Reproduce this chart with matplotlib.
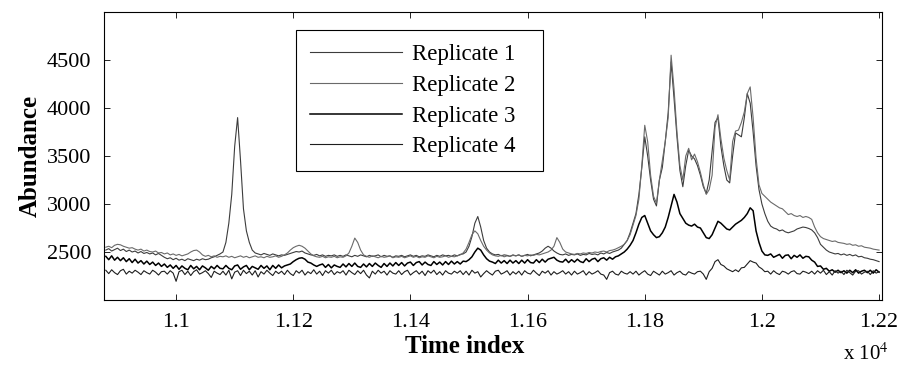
import numpy as np
import matplotlib
matplotlib.use('Agg')
import matplotlib.pyplot as plt

# time grid (step 5) read across the x range 1.088e4 .. 1.220e4
time_index = np.arange(10880, 12201, 5)

rep1 = [
    2520, 2535, 2510, 2525, 2540, 2515, 2530, 2505, 2520, 2500, 2510, 2490, 2505, 2485, 2495, 2480, 2490, 2470, 2485, 2465,
    2445, 2430, 2440, 2420, 2435, 2415, 2425, 2410, 2430, 2420, 2410, 2425, 2415, 2430, 2420, 2425, 2440, 2450, 2465, 2480,
    2500, 2600, 2800, 3100, 3600, 3900, 3450, 2950, 2720, 2600, 2520, 2490, 2480, 2470, 2485, 2475, 2465, 2480, 2470, 2460,
    2470, 2465, 2475, 2485, 2495, 2505, 2500, 2510, 2490, 2480, 2470, 2465, 2475, 2460, 2470, 2455, 2465, 2460, 2470, 2455,
    2465, 2455, 2470, 2460, 2450, 2465, 2455, 2470, 2460, 2450, 2465, 2455, 2460, 2470, 2450, 2465, 2455, 2460, 2445, 2460,
    2455, 2465, 2450, 2460, 2470, 2455, 2465, 2450, 2460, 2455, 2470, 2460, 2450, 2465, 2455, 2470, 2460, 2465, 2455, 2470,
    2460, 2475, 2480, 2500, 2560, 2660, 2800, 2870, 2760, 2620, 2540, 2500, 2480, 2470, 2475, 2460, 2470, 2465, 2455, 2470,
    2460, 2470, 2455, 2465, 2475, 2460, 2470, 2480, 2490, 2510, 2540, 2560, 2540, 2510, 2490, 2475, 2470, 2480, 2465, 2475,
    2470, 2480, 2465, 2475, 2470, 2485, 2475, 2480, 2470, 2490, 2480, 2495, 2485, 2500, 2510, 2520, 2540, 2580, 2620, 2700,
    2800, 2900, 3100, 3380, 3700, 3500, 3250, 3050, 2980, 3250, 3380, 3650, 3950, 4480, 4100, 3700, 3350, 3180, 3400, 3560,
    3500, 3470, 3400, 3300, 3180, 3110, 3250, 3550, 3850, 3900, 3600, 3400, 3250, 3220, 3500, 3740, 3720, 3700, 3900, 4150,
    4050, 3750, 3400, 3150, 3000, 2900, 2820, 2770, 2750, 2740, 2720, 2730, 2710, 2700, 2710, 2720, 2740, 2750, 2760, 2755,
    2745, 2730, 2700, 2650, 2580, 2550, 2520, 2500, 2490, 2480, 2485, 2470, 2480, 2465, 2475, 2460, 2470, 2450, 2455, 2440,
    2435, 2425, 2420, 2410, 2400,
]

rep2 = [
    2550, 2560, 2545, 2570, 2580, 2575, 2560, 2550, 2540, 2545, 2530, 2520, 2530, 2510, 2520, 2505, 2500, 2510, 2490, 2495,
    2480, 2490, 2470, 2480, 2465, 2475, 2460, 2470, 2480, 2500, 2515, 2520, 2500, 2470, 2455, 2465, 2450, 2460, 2445, 2455,
    2450, 2460, 2445, 2455, 2440, 2450, 2460, 2445, 2455, 2440, 2450, 2460, 2445, 2450, 2440, 2455, 2445, 2450, 2460, 2445,
    2455, 2470, 2490, 2520, 2545, 2560, 2570, 2560, 2540, 2510, 2480, 2460, 2450, 2445, 2455, 2440, 2450, 2445, 2455, 2440,
    2450, 2445, 2460, 2490, 2560, 2645, 2600, 2520, 2470, 2455, 2445, 2460, 2450, 2440, 2455, 2445, 2450, 2460, 2440, 2450,
    2445, 2455, 2440, 2450, 2460, 2445, 2455, 2440, 2450, 2445, 2460, 2450, 2440, 2455, 2445, 2450, 2460, 2445, 2455, 2450,
    2460, 2470, 2490, 2530, 2600, 2680, 2720, 2690, 2620, 2560, 2520, 2490, 2470, 2460, 2455, 2465, 2450, 2460, 2455, 2465,
    2460, 2470, 2455, 2465, 2460, 2470, 2465, 2475, 2470, 2480, 2490, 2500, 2520, 2560, 2650, 2600, 2530, 2500, 2490, 2480,
    2475, 2485, 2480, 2490, 2485, 2495, 2490, 2500, 2495, 2505, 2510, 2500, 2515, 2520, 2530, 2545, 2560, 2580, 2620, 2680,
    2780, 2880, 3050, 3400, 3820, 3650, 3300, 3080, 3010, 3250, 3450, 3650, 3900, 4550, 4200, 3750, 3400, 3250, 3500, 3580,
    3460, 3520, 3440, 3330, 3200, 3100, 3150, 3300, 3800, 3930, 3680, 3480, 3350, 3250, 3650, 3760, 3770, 3850, 3960, 4150,
    4220, 3900, 3480, 3200, 3110, 3080, 3050, 3020, 3000, 2980, 2960, 2950, 2920, 2890, 2900, 2880, 2870, 2880, 2860, 2870,
    2860, 2840, 2760, 2700, 2660, 2640, 2630, 2620, 2610, 2615, 2600, 2595, 2590, 2580, 2585, 2570, 2575, 2560, 2565, 2550,
    2545, 2540, 2530, 2525, 2520,
]

rep3 = [
    2455, 2420, 2460, 2415, 2445, 2410, 2440, 2400, 2430, 2390, 2425, 2385, 2410, 2375, 2405, 2370, 2395, 2360, 2385, 2350,
    2375, 2340, 2365, 2330, 2360, 2320, 2355, 2330, 2315, 2360, 2325, 2350, 2315, 2355, 2335, 2310, 2350, 2325, 2360, 2330,
    2325, 2360, 2330, 2315, 2355, 2365, 2320, 2345, 2360, 2315, 2350, 2335, 2320, 2360, 2330, 2355, 2315, 2360, 2330, 2365,
    2335, 2355, 2365, 2375, 2400, 2420, 2435, 2440, 2425, 2395, 2385, 2365, 2350, 2365, 2375, 2340, 2370, 2335, 2365, 2350,
    2340, 2375, 2345, 2380, 2350, 2385, 2350, 2340, 2375, 2345, 2380, 2350, 2385, 2360, 2340, 2380, 2350, 2385, 2355, 2390,
    2360, 2390, 2355, 2385, 2395, 2360, 2390, 2400, 2365, 2395, 2370, 2360, 2400, 2370, 2395, 2365, 2400, 2370, 2405, 2375,
    2400, 2375, 2405, 2400, 2420, 2450, 2500, 2540, 2520, 2470, 2430, 2405, 2395, 2380, 2415, 2385, 2410, 2380, 2415, 2385,
    2410, 2380, 2415, 2385, 2420, 2390, 2385, 2420, 2390, 2425, 2395, 2425, 2435, 2445, 2415, 2400, 2395, 2425, 2390, 2420,
    2395, 2425, 2400, 2390, 2430, 2400, 2425, 2435, 2400, 2430, 2440, 2415, 2445, 2425, 2450, 2460, 2480, 2500, 2530, 2570,
    2620, 2700, 2790, 2860, 2880, 2800, 2720, 2680, 2650, 2660, 2700, 2760, 2860, 2980, 3100, 3020, 2900, 2850, 2800, 2780,
    2770, 2790, 2760, 2750, 2700, 2650, 2640, 2680, 2750, 2820, 2800, 2770, 2740, 2730, 2760, 2790, 2810, 2830, 2860, 2900,
    2960, 2930, 2720, 2600, 2510, 2470, 2465, 2480, 2445, 2460, 2475, 2435, 2465, 2470, 2430, 2465, 2445, 2470, 2435, 2455,
    2450, 2415, 2395, 2350, 2355, 2320, 2330, 2300, 2315, 2290, 2310, 2285, 2305, 2280, 2310, 2285, 2315, 2280, 2300, 2310,
    2285, 2310, 2280, 2315, 2290,
]

rep4 = [
    2310, 2275, 2315, 2285, 2265, 2305, 2320, 2270, 2300, 2280, 2310, 2290, 2265, 2305, 2285, 2270, 2310, 2290, 2260, 2295,
    2300, 2270, 2305, 2280, 2195, 2295, 2310, 2265, 2300, 2255, 2295, 2315, 2270, 2285, 2305, 2275, 2235, 2300, 2280, 2265,
    2300, 2260, 2310, 2220, 2290, 2305, 2255, 2310, 2275, 2300, 2260, 2305, 2240, 2295, 2270, 2310, 2280, 2255, 2300, 2275,
    2300, 2265, 2310, 2275, 2255, 2305, 2280, 2310, 2260, 2295, 2275, 2315, 2270, 2300, 2255, 2305, 2280, 2310, 2265, 2295,
    2280, 2305, 2260, 2310, 2285, 2265, 2305, 2275, 2310, 2260, 2230, 2300, 2270, 2310, 2280, 2300, 2260, 2305, 2280, 2270,
    2305, 2265, 2295, 2310, 2260, 2285, 2305, 2270, 2300, 2255, 2305, 2280, 2310, 2265, 2295, 2260, 2305, 2280, 2270, 2300,
    2280, 2305, 2265, 2300, 2260, 2310, 2280, 2295, 2240, 2275, 2305, 2280, 2260, 2300, 2310, 2270, 2285, 2305, 2260, 2295,
    2270, 2300, 2260, 2305, 2280, 2270, 2310, 2280, 2255, 2300, 2280, 2305, 2260, 2295, 2270, 2285, 2305, 2270, 2295, 2260,
    2300, 2270, 2285, 2305, 2260, 2295, 2270, 2285, 2305, 2270, 2260, 2215, 2285, 2300, 2270, 2260, 2300, 2280, 2270, 2295,
    2270, 2300, 2260, 2285, 2305, 2270, 2255, 2300, 2280, 2260, 2300, 2270, 2285, 2305, 2260, 2285, 2300, 2270, 2260, 2295,
    2280, 2270, 2295, 2300, 2270, 2215, 2295, 2330, 2400, 2420, 2370, 2355, 2325, 2310, 2295, 2315, 2295, 2335, 2340, 2375,
    2410, 2395, 2385, 2345, 2325, 2295, 2300, 2270, 2305, 2280, 2265, 2300, 2290, 2270, 2295, 2305, 2275, 2270, 2300, 2290,
    2275, 2300, 2270, 2305, 2280, 2310, 2265, 2295, 2260, 2305, 2280, 2300, 2265, 2310, 2285, 2260, 2300, 2305, 2270, 2290,
    2300, 2265, 2305, 2280, 2295,
]

series_labels = ['Replicate 1', 'Replicate 2', 'Replicate 3', 'Replicate 4']
x_ticks = [11000, 11200, 11400, 11600, 11800, 12000, 12200]
x_tick_labels = ['1.1', '1.12', '1.14', '1.16', '1.18', '1.2', '1.22']
y_ticks = [2500, 3000, 3500, 4000, 4500]

plt.rcParams['font.family'] = ['Liberation Serif', 'DejaVu Serif']
plt.rcParams['mathtext.fontset'] = 'stix'

fig = plt.figure(figsize=(9, 3.76), dpi=100)
ax = fig.add_axes([0.1156, 0.2021, 0.8644, 0.766])

styles = [
    dict(color='#3c3c3c', lw=0.8),
    dict(color='#6a6a6a', lw=0.8),
    dict(color='#000000', lw=1.1),
    dict(color='#1e1e1e', lw=0.8),
]
for vals, lab, st in zip([rep1, rep2, rep3, rep4], series_labels, styles):
    ax.plot(time_index[:len(vals)], vals, label=lab, **st)

ax.set_xlim(10877, 12205)
ax.set_ylim(2000, 5000)
ax.set_xticks(x_ticks)
ax.set_xticklabels(x_tick_labels)
ax.set_yticks(y_ticks)
ax.tick_params(direction='in', top=True, right=True, length=4, width=0.6,
               labelsize=16, pad=9)
for sp in ax.spines.values():
    sp.set_linewidth(0.8)

ax.set_xlabel('Time index', fontweight='bold', fontsize=18)
ax.set_ylabel('Abundance', fontweight='bold', fontsize=18)
ax.xaxis.set_label_coords(0.463, -0.122)

leg = ax.legend(loc='upper left', bbox_to_anchor=(0.2468, 0.4514, 0.3175, 0.4861),
                mode='expand', borderaxespad=0,
                fancybox=False, edgecolor='black', framealpha=1, fontsize=16.5,
                handlelength=4.0, handletextpad=0.45, labelspacing=0.42, borderpad=0.62)
leg.get_frame().set_linewidth(0.8)

fig.text(0.937, 0.0426, 'x 10$^{4}$', fontsize=15, va='baseline')

fig.savefig('out.png', dpi=100)
